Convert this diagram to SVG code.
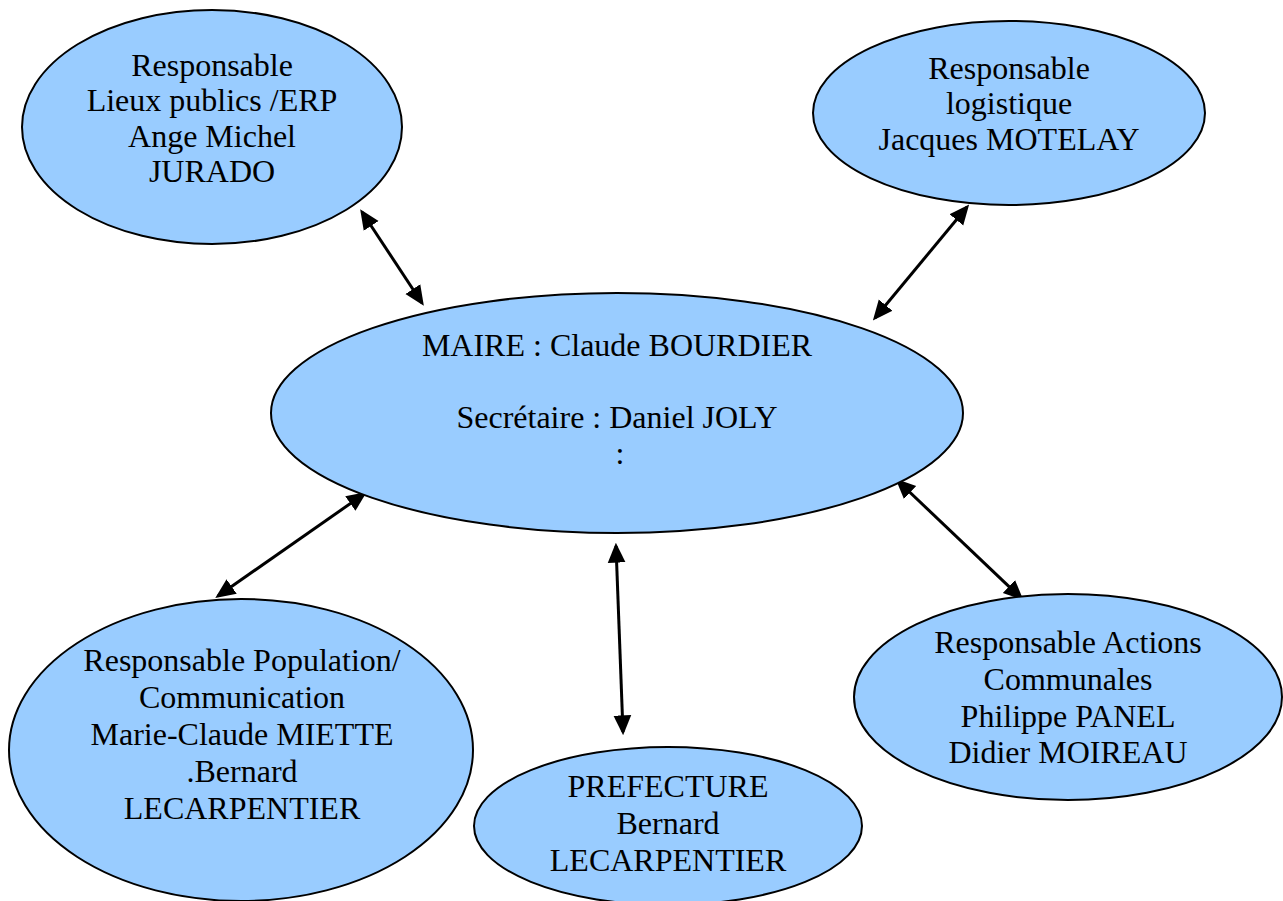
<svg xmlns="http://www.w3.org/2000/svg" width="1283" height="901" viewBox="0 0 1283 901">
<style>
.n{fill:#99CCFF;stroke:#000;stroke-width:2}
.t{font-family:"Liberation Serif","Times New Roman",serif;font-size:32px;fill:#000;text-anchor:middle}
.c{stroke:#000;stroke-width:3;fill:none;marker-start:url(#ah);marker-end:url(#ah)}
</style>
<defs>
<marker id="ah" markerUnits="userSpaceOnUse" markerWidth="20" markerHeight="20" viewBox="0 0 18 16" refX="15" refY="8" orient="auto-start-reverse">
<path d="M0,0 L18,8 L0,16 Z" fill="#000"/>
</marker>
</defs>
<rect width="1283" height="901" fill="#fff"/>
<g id="connectors">
<line class="c" x1="362" y1="212" x2="422" y2="303"/>
<line class="c" x1="967" y1="207" x2="875" y2="318"/>
<line class="c" x1="364" y1="494" x2="218" y2="596"/>
<line class="c" x1="616" y1="546" x2="623" y2="732"/>
<line class="c" x1="898" y1="481" x2="1021" y2="598"/>
</g>
<g id="n-erp">
<ellipse class="n" cx="212" cy="127" rx="190" ry="117"/>
<text class="t" x="212" y="76">Responsable</text>
<text class="t" x="212" y="111">Lieux publics /ERP</text>
<text class="t" x="212" y="147">Ange Michel</text>
<text class="t" x="212" y="182">JURADO</text>
</g>
<g id="n-logistique">
<ellipse class="n" cx="1009" cy="113" rx="196" ry="92"/>
<text class="t" x="1009" y="79">Responsable</text>
<text class="t" x="1009" y="114">logistique</text>
<text class="t" x="1009" y="150">Jacques MOTELAY</text>
</g>
<g id="n-maire">
<ellipse class="n" cx="617" cy="413" rx="346" ry="120"/>
<text class="t" x="617" y="356">MAIRE : Claude BOURDIER</text>
<text class="t" x="617" y="428">Secrétaire : Daniel JOLY</text>
<text class="t" x="620" y="464">:</text>
</g>
<g id="n-population">
<ellipse class="n" cx="241" cy="750" rx="232" ry="151"/>
<text class="t" x="242" y="671">Responsable Population/</text>
<text class="t" x="242" y="708">Communication</text>
<text class="t" x="242" y="745">Marie-Claude MIETTE</text>
<text class="t" x="242" y="782">.Bernard</text>
<text class="t" x="242" y="819">LECARPENTIER</text>
</g>
<g id="n-prefecture">
<ellipse class="n" cx="668" cy="826" rx="194" ry="79"/>
<text class="t" x="668" y="797">PREFECTURE</text>
<text class="t" x="668" y="834">Bernard</text>
<text class="t" x="668" y="871">LECARPENTIER</text>
</g>
<g id="n-actions">
<ellipse class="n" cx="1068" cy="697" rx="214" ry="103"/>
<text class="t" x="1068" y="653">Responsable Actions</text>
<text class="t" x="1068" y="690">Communales</text>
<text class="t" x="1068" y="727">Philippe PANEL</text>
<text class="t" x="1068" y="763">Didier MOIREAU</text>
</g>
</svg>
